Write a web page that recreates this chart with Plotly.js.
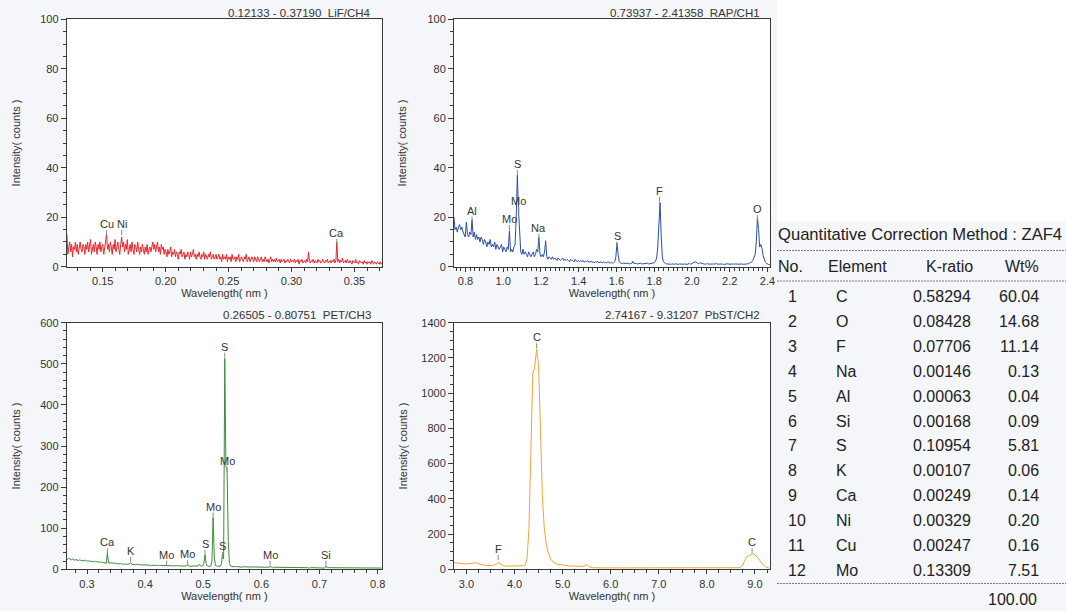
<!DOCTYPE html>
<html>
<head>
<meta charset="utf-8">
<script src="https://cdn.plot.ly/plotly-3.0.1.min.js"></script>
<style>
html,body{margin:0;padding:0;background:#f4f6f9;}
#chart{width:1066px;height:611px;}
</style>
</head>
<body>
<div id="chart"></div>
<script>
// ---------------- DATA ----------------
// LiF / CH4 spectrum (regular wavelength grid)
const lifStart = 0.1215, lifStep = 0.00075;
const lifCounts = [
13,5,8,10,6,9,4,8,7,10,6,9,5,8,10,7,6,9,8,5,
9,7,10,6,8,11,5,7,9,6,10,8,5,9,7,10,6,8,9,5,
8,10,13,7,9,6,10,8,5,9,7,11,6,8,10,7,5,9,12,8,
10,6,9,7,11,5,8,9,6,10,7,5,9,8,6,10,7,5,8,6,
9,7,5,8,6,9,5,7,8,6,9,10,7,9,6,8,10,6,8,5,
9,7,8,5,7,6,4,7,5,6,8,4,6,5,7,4,6,5,3,6,
5,7,4,5,6,3,5,4,6,5,3,6,4,5,7,4,5,3,5,4,
6,4,3,5,4,6,3,5,4,3,5,4,6,3,4,5,3,4,5,3,
4,5,3,4,2,5,3,4,3,5,2,4,3,4,2,5,3,3,4,2,
4,3,5,2,3,4,3,2,4,3,5,2,3,4,2,3,4,3,2,4,
3,2,4,3,2,3,4,2,3,2,4,3,2,3,1.5,3,4,2,3,2,
3,2,3.5,2,2.5,3,1.5,3,2,2.5,3,1.5,2.5,2,3,2,1.5,3,2,2.5,
2,3,1.5,2.5,2,3,1,2.5,2,3,1.5,2,2.5,1.5,3,2,6,2,1.5,2.5,
2,3,1.5,2.5,2,1.5,3,2,2.5,1.5,2,3,2,1.5,2.5,2,3,1.5,2,2.5,
1.5,2.5,2,3,1.5,2.5,10,2,3,1.5,2.5,2,3.5,1.5,2,2.5,1.5,3,2,1.5,
2.5,2,1,2.5,2,1.5,3,1.5,2,1,2.5,2,1.5,2,1,2.5,1.5,2,1,2,
1.5,2,1,2.5,1.5,1,2,1.5,1,2,1.5,1,2,1,1.5,1.5
];
const lifPeakLabels = ['Cu','Ni','Ca'];
const lifPeakX = [0.153,0.165,0.336];
const lifPeakY = [12.8,12.8,9.2];

// RAP / CH1 spectrum
const rapStart = 0.739, rapStep = 0.006;
const rapCounts = [
20,15,16,14,16,17,15,16,14,13,12,18,13,12,14,13,19,12,14,11,
13,11,12,10,12,11,9,11,10,8,10,9,11,8,9,8,10,7,9,8,
7,8,9,6,8,7,6,8,7,14.5,6,7,6,8,9,20,37,23,12,6,
5,7,5,6,5,4,6,5,4,5,6,4,5,7,6,12,5,4,5,4,
6,10.5,4,3,4,3.5,3,4,3,3.5,3,2.5,3.5,3,2.5,3,3.5,2.5,3,2.5,
3,2.5,2,3,2.5,2.5,2,3,2.5,2,2.5,2,2.5,2,2.5,1.8,2.2,2,2.5,1.8,
2,2.2,1.8,2,1.5,2,1.8,2.2,1.5,2,1.8,1.5,2,1.6,1.8,1.5,2,1.6,1.4,1.8,
1.5,1.6,2,4,9.5,5,2,1.5,1.4,1.2,1.5,1.3,1.2,1.5,1.3,1.1,1.4,1.2,2.2,1.3,
1.2,1.4,1.1,1.3,1.2,1.4,1.1,1.2,1.3,1.1,1.2,1.4,1.1,1.2,1.3,1.2,1.4,1.6,2.2,3.5,
8,21,26,13,4,2,1.4,1.2,1.1,1,1.2,0.9,1,1.1,0.9,1,1.2,1,0.9,1.1,
1,0.9,1.1,1,1.2,0.9,1,1.1,1.3,1,1.1,1.5,1.8,2,1.8,1.5,1.2,1.4,1.6,1.3,
1.1,1.2,1,1.1,1.3,1,1.2,1.1,1,1.2,1,1.1,1.3,1,1.1,1.2,1,1.1,0.9,1,
1.1,1,1.2,1,1.1,1,1.3,1.1,1,1.2,1,1.1,0.9,1,1.1,1,0.9,1,1.1,1,
1.2,1.4,1.6,2,2.6,3.5,5,10,20,15,8,9,7.5,4.5,2.5,1.8,1.3,1,0.9,0.8
];
const rapPeakLabels = ['Al','Mo','S','Mo','Na','S','F','O'];
const rapPeakX = [0.835,1.033,1.075,1.083,1.189,1.603,1.828,2.347];
const rapPeakY = [18.2,14.8,37,22.2,11.2,8.1,26.3,18.9];

// PET / CH3 spectrum
const petStart = 0.265, petStep = 0.002;
const petCounts = [
26,24,27,25,23,25,24,22,24,23,21,23,22,21,22,20,22,21,20,21,
19,20,19,18,20,18,19,17,18,17,18,16,17,16,14,40,15,16,15,16,
15,14,15,14,13,14,13,14,12,13,12,13,12,13,13,16,12,11,12,11,
12,11,11,12,10,11,11,10,11,10,10,11,10,9,10,10,9,10,9,10,
9,10,9,9,10,9,10,9,9,9,8,9,9,8,9,8,9,8,8,9,
8,8,9,8,11,8,8,7,8,8,7,8,7,8,12,8,7,8,15,35,
14,8,7,7,8,20,126,30,9,7,7,8,7,12,35,25,513,250,242,70,
14,8,7,6,7,6,6,7,6,6,5,6,6,5,6,5,6,5,5,6,
5,5,6,5,5,5,6,5,5,5,5,5,6,5,5,7,5,4,5,5,
5,4,5,4,5,4,4,5,4,4,5,4,4,4,5,4,4,4,5,4,
4,4,4,5,4,4,4,4,3,4,4,4,4,3,4,4,4,4,3,4,
4,4,3,8,4,4,4,3,4,4,3,4,4,3,4,3,4,4,3,4,
3,4,3,3,4,3,3,4,3,3,4,3,3,3,4,3,3,3,4,3,
3,3,4,3,3,3,3,4,3,3,3,3
];
const petPeakLabels = ['Ca','K','Mo','Mo','S','Mo','S','S','Mo','Mo','Si'];
const petPeakX = [0.335,0.375,0.437,0.473,0.503,0.517,0.533,0.537,0.541,0.615,0.711];
const petPeakY = [39,18.5,9,10,35,126,30,515,237,9,9];

// PbST / CH2 spectrum
const pbstStart = 2.74, pbstStep = 0.04;
const pbstCounts = [
38,36,35,34,33,32,31,31,32,33,
36,38,36,31,27,25,23,22,21,21,
22,24,28,38,30,22,19,18,18,17,
17,17,17,18,18,19,20,24,60,230,
720,1110,1150,1250,1160,720,410,230,140,95,
65,48,38,32,28,26,24,22,21,20,
19,19,18,18,17,17,16,16,22,25,
15,10,9,9,8,8,8,8,8,8,
8,8,7,8,8,8,7,8,8,8,
8,9,8,8,9,8,8,8,8,7,
8,8,8,8,8,8,8,9,10,10,
9,8,8,8,7,7,7,7,7,7,
7,7,7,7,7,7,7,7,7,7,
7,7,7,7,7,7,7,7,7,7,
7,7,7,7,7,7,8,8,9,12,
20,45,68,76,82,87,85,78,66,50,
35,22,14,9,6
];
const pbstPeakLabels = ['F','C','C'];
const pbstPeakX = [3.66,4.46,8.94];
const pbstPeakY = [53,1255,91];

const panelTitles = [
  '0.12133 - 0.37190\u00a0 LiF/CH4',
  '0.73937 - 2.41358\u00a0 RAP/CH1',
  '0.26505 - 0.80751\u00a0 PET/CH3',
  '2.74167 - 9.31207\u00a0 PbST/CH2'
];

// Quantitative table
const tableTitle = 'Quantitative Correction Method : ZAF4';
const tableHeaders = ['No.','Element','K-ratio','Wt%'];
const tableNo = ['1','2','3','4','5','6','7','8','9','10','11','12'];
const tableElement = ['C','O','F','Na','Al','Si','S','K','Ca','Ni','Cu','Mo'];
const tableKRatio = ['0.58294','0.08428','0.07706','0.00146','0.00063','0.00168','0.10954','0.00107','0.00249','0.00329','0.00247','0.13309'];
const tableWt = ['60.04','14.68','11.14','0.13','0.04','0.09','5.81','0.06','0.14','0.20','0.16','7.51'];
const tableTotal = '100.00';

// ---------------- LAYOUT HELPERS ----------------
const W = 1066, H = 611;
const FONT = 'Liberation Sans, Arial, Helvetica, sans-serif';
const px = p => p / W;
const py = p => 1 - p / H;

const colL = [px(66.7), px(382)];
const colR = [px(454), px(770)];
const rowT = [py(266.7), py(19.3)];
const rowB = [py(569.3), py(322.7)];

const AX = '#3a3a3a';
function xAxis(domain, anchor, range, dtick, fmt, minorDtick) {
  return {
    domain, anchor, range, dtick, tick0: 0, tickformat: fmt,
    showline: true, mirror: true, linecolor: AX, linewidth: 1,
    ticks: 'outside', ticklen: 4, tickcolor: AX, showgrid: false, zeroline: false,
    minor: {dtick: minorDtick, ticks: 'outside', ticklen: 3, tickcolor: AX, showgrid: false},
    tickfont: {size: 11, color: '#333', family: FONT},
    title: {text: 'Wavelength( nm )', font: {size: 11, color: '#333', family: FONT}, standoff: 3},
    fixedrange: true
  };
}
function yAxis(domain, anchor, range, dtick, minorDtick, standoff) {
  return {
    domain, anchor, range, dtick, tick0: 0,
    showline: true, mirror: true, linecolor: AX, linewidth: 1,
    ticks: 'outside', ticklen: 5, tickcolor: AX, showgrid: false, zeroline: false,
    minor: {dtick: minorDtick, ticks: 'outside', ticklen: 3, tickcolor: AX, showgrid: false},
    tickfont: {size: 11, color: '#333', family: FONT},
    title: {text: 'Intensity( counts )', font: {size: 11, color: '#333', family: FONT}, standoff},
    fixedrange: true
  };
}

function trace(y, x0, dx, color, xa, ya) {
  return {type: 'scatter', mode: 'lines', y, x0, dx, xaxis: xa, yaxis: ya,
    line: {color, width: 1}, hoverinfo: 'skip', showlegend: false};
}

const data = [
  trace(lifCounts, lifStart, lifStep, '#e8262b', 'x', 'y'),
  trace(rapCounts, rapStart, rapStep, '#2c4fa3', 'x2', 'y2'),
  trace(petCounts, petStart, petStep, '#3a8c3a', 'x3', 'y3'),
  trace(pbstCounts, pbstStart, pbstStep, '#f5a13a', 'x4', 'y4')
];

function peakAnns(xr, yr, labels, xs, ys) {
  return labels.map((t, i) => ({
    xref: xr, yref: yr, x: xs[i], y: ys[i], text: t,
    showarrow: true, arrowhead: 0, arrowwidth: 1, arrowcolor: '#8a8a8a',
    ax: 0, ay: -11, standoff: 0, borderpad: 0, borderwidth: 0,
    font: {size: 11, color: '#333', family: FONT}
  }));
}

function txt(text, xpx, ypx, anchor, size) {
  return {xref: 'paper', yref: 'paper', x: px(xpx), y: py(ypx), text,
    showarrow: false, xanchor: anchor, yanchor: 'middle', borderpad: 0, borderwidth: 0,
    font: {size: size || 16, color: '#222', family: FONT}};
}

let annotations = [];
annotations = annotations.concat(peakAnns('x', 'y', lifPeakLabels, lifPeakX, lifPeakY));
annotations = annotations.concat(peakAnns('x2', 'y2', rapPeakLabels, rapPeakX, rapPeakY));
annotations = annotations.concat(peakAnns('x3', 'y3', petPeakLabels, petPeakX, petPeakY));
annotations = annotations.concat(peakAnns('x4', 'y4', pbstPeakLabels, pbstPeakX, pbstPeakY));

// panel titles
const titlePos = [[371, 13], [759.5, 13], [370.5, 315], [759.5, 315]];
panelTitles.forEach((t, i) => {
  const a = txt(t, titlePos[i][0], titlePos[i][1], 'right', 11.5);
  a.font.color = '#333';
  annotations.push(a);
});

// table
annotations.push(txt(tableTitle, 778, 234.5, 'left', 16.6));
annotations.push(txt(tableHeaders[0], 778, 266.5, 'left'));
annotations.push(txt(tableHeaders[1], 828, 266.5, 'left'));
annotations.push(txt(tableHeaders[2], 973, 266.5, 'right'));
annotations.push(txt(tableHeaders[3], 1038.5, 266.5, 'right'));
tableNo.forEach((n, k) => {
  const y = 296.7 + k * 24.87;
  annotations.push(txt(n, 787.5, y, 'left'));
  annotations.push(txt(tableElement[k], 836, y, 'left'));
  annotations.push(txt(tableKRatio[k], 970.5, y, 'right'));
  annotations.push(txt(tableWt[k], 1038.5, y, 'right'));
});
annotations.push(txt(tableTotal, 1037, 599.8, 'right'));

const dashLine = yp => ({type: 'line', xref: 'paper', yref: 'paper', x0: px(777), x1: 1, y0: py(yp), y1: py(yp),
  line: {color: '#7a7a7a', width: 1, dash: '2px,1px'}});

const shapes = [
  {type: 'rect', xref: 'paper', yref: 'paper', x0: px(777), x1: 1, y0: py(222), y1: 1,
    fillcolor: '#ffffff', line: {width: 0}, layer: 'below'},
  dashLine(250.5), dashLine(281), dashLine(583.5)
];

const layout = {
  width: W, height: H,
  margin: {l: 0, r: 0, t: 0, b: 0, pad: 0},
  paper_bgcolor: '#f4f6f9', plot_bgcolor: '#ffffff',
  font: {family: FONT, color: '#333', size: 11},
  showlegend: false,
  xaxis: xAxis(colL, 'y', [0.12133, 0.37190], 0.05, '.2f', 0.01),
  yaxis: yAxis(rowT, 'x', [0, 100], 20, 5, 17),
  xaxis2: xAxis(colR, 'y2', [0.73937, 2.41358], 0.2, '.1f', 0.025),
  yaxis2: yAxis(rowT, 'x2', [0, 100], 20, 5, 18),
  xaxis3: xAxis(colL, 'y3', [0.26505, 0.80751], 0.1, '.1f', 0.02),
  yaxis3: yAxis(rowB, 'x3', [0, 600], 100, 20, 17),
  xaxis4: xAxis(colR, 'y4', [2.74167, 9.31207], 1, '.1f', 0.25),
  yaxis4: yAxis(rowB, 'x4', [0, 1400], 200, 50, 11),
  annotations, shapes
};

Plotly.newPlot('chart', data, layout, {displayModeBar: false, responsive: false});
</script>
</body>
</html>
